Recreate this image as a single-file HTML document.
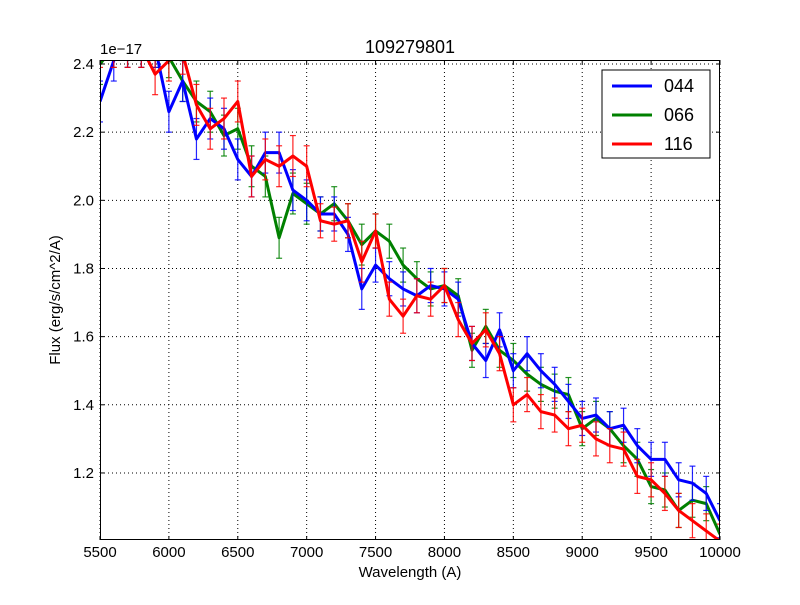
<!DOCTYPE html>
<html><head><meta charset="utf-8"><style>
body{margin:0;background:#fff;}
svg{font-family:"Liberation Sans","DejaVu Sans",sans-serif;}
</style></head><body>
<svg id="chart" width="800" height="600" xmlns="http://www.w3.org/2000/svg">
<rect width="800" height="600" fill="#fff"/>
<defs><clipPath id="pc"><rect x="100" y="60" width="620" height="480"/></clipPath></defs>
<g id="grid"></g>
<g id="series" clip-path="url(#pc)"></g>
<rect x="100.5" y="60.5" width="619" height="479" fill="none" stroke="#000" stroke-width="1"/>
<g id="ticks"></g>
<text x="410" y="53" font-size="18" text-anchor="middle">109279801</text>
<text x="410" y="577" font-size="15" text-anchor="middle">Wavelength (A)</text>
<text x="60" y="300" font-size="15" text-anchor="middle" transform="rotate(-90 60 300)">Flux (erg/s/cm^2/A)</text>
<text x="100" y="54" font-size="15">1e−17</text>
<g>
<rect x="602" y="70" width="108" height="88" fill="#fff" stroke="#000"/>
<line x1="612" y1="86" x2="652" y2="86" stroke="#0000ff" stroke-width="3"/>
<text x="664" y="92" font-size="18">044</text>
<line x1="612" y1="115" x2="652" y2="115" stroke="#008000" stroke-width="3"/>
<text x="664" y="121" font-size="18">066</text>
<line x1="612" y1="144" x2="652" y2="144" stroke="#ff0000" stroke-width="3"/>
<text x="664" y="150" font-size="18">116</text>
</g>
</svg>
<script>
const wavelengths=[5500,5600,5700,5800,5900,6000,6100,6200,6300,6400,6500,6600,6700,6800,6900,7000,7100,7200,7300,7400,7500,7600,7700,7800,7900,8000,8100,8200,8300,8400,8500,8600,8700,8800,8900,9000,9100,9200,9300,9400,9500,9600,9700,9800,9900,10000];
const flux044=[2.29,2.41,2.45,2.45,2.45,2.26,2.35,2.18,2.24,2.21,2.12,2.07,2.14,2.14,2.03,2.00,1.96,1.96,1.90,1.74,1.81,1.77,1.74,1.72,1.75,1.74,1.71,1.58,1.53,1.62,1.50,1.55,1.50,1.46,1.41,1.36,1.37,1.33,1.34,1.28,1.24,1.24,1.18,1.17,1.14,1.06];
const flux066=[2.40,2.45,2.45,2.45,2.45,2.42,2.35,2.29,2.26,2.19,2.21,2.10,2.07,1.89,2.02,1.99,1.96,1.99,1.94,1.87,1.91,1.88,1.81,1.77,1.74,1.75,1.72,1.56,1.63,1.56,1.53,1.49,1.46,1.44,1.43,1.33,1.36,1.33,1.28,1.24,1.16,1.15,1.09,1.12,1.11,1.02];
const flux116=[2.45,2.45,2.45,2.45,2.37,2.41,2.43,2.28,2.21,2.24,2.29,2.07,2.12,2.10,2.13,2.10,1.94,1.93,1.94,1.82,1.91,1.71,1.66,1.72,1.71,1.75,1.65,1.58,1.62,1.55,1.40,1.43,1.38,1.37,1.33,1.34,1.30,1.28,1.27,1.19,1.18,1.14,1.09,1.06,1.03,1.00];
const errors=[0.06,0.06,0.06,0.06,0.06,0.06,0.06,0.06,0.06,0.06,0.06,0.06,0.06,0.06,0.06,0.06,0.05,0.05,0.05,0.06,0.05,0.05,0.05,0.05,0.05,0.05,0.05,0.05,0.05,0.05,0.05,0.05,0.05,0.05,0.05,0.05,0.05,0.05,0.05,0.05,0.05,0.05,0.05,0.05,0.05,0.05];
const xTicks=[5500,6000,6500,7000,7500,8000,8500,9000,9500,10000];
const yTicks=[1.2,1.4,1.6,1.8,2.0,2.2,2.4];
const X=w=>100+(w-5500)*620/4500;
const Y=f=>64+(2.4-f)*340.8;
const NS="http://www.w3.org/2000/svg";
function mk(tag,attrs,parent){const e=document.createElementNS(NS,tag);for(const k in attrs)e.setAttribute(k,attrs[k]);parent.appendChild(e);return e;}
const grid=document.getElementById('grid'),ticks=document.getElementById('ticks'),ser=document.getElementById('series');
xTicks.forEach(t=>{const x=X(t);
 const g=mk('line',{x1:x,x2:x,y1:60,y2:540,stroke:'#000','stroke-dasharray':'1,3','stroke-width':1},grid);
 
 
 mk('line',{x1:x,x2:x,y1:540,y2:536,stroke:'#000'},ticks);mk('line',{x1:x,x2:x,y1:60,y2:64,stroke:'#000'},ticks);
 const tx=mk('text',{x:x,y:557,'font-size':15,'text-anchor':'middle'},ticks);tx.textContent=t;
 
 });
yTicks.forEach(t=>{const y=Y(t);
 const g=mk('line',{x1:100,x2:720,y1:y,y2:y,stroke:'#000','stroke-dasharray':'1,3','stroke-width':1},grid);
 
 
 mk('line',{x1:100,x2:104,y1:y,y2:y,stroke:'#000'},ticks);mk('line',{x1:716,x2:720,y1:y,y2:y,stroke:'#000'},ticks);
 const tx=mk('text',{x:94,y:y+5,'font-size':15,'text-anchor':'end'},ticks);tx.textContent=t.toFixed(1);
 
 });
function draw(vals,color,name){
 const g=mk('g',{},ser);
 
 
 vals.forEach((v,i)=>{const x=X(wavelengths[i]),e=errors[i];
  mk('line',{x1:x,x2:x,y1:Y(v-e),y2:Y(v+e),stroke:color,'stroke-width':1.2,opacity:0.85},g);
  mk('line',{x1:x-3,x2:x+3,y1:Y(v-e),y2:Y(v-e),stroke:color,'stroke-width':1.2,opacity:0.85},g);
  mk('line',{x1:x-3,x2:x+3,y1:Y(v+e),y2:Y(v+e),stroke:color,'stroke-width':1.2,opacity:0.85},g);});
 mk('polyline',{points:vals.map((v,i)=>X(wavelengths[i])+','+Y(v)).join(' '),fill:'none',stroke:color,'stroke-width':3,'stroke-linejoin':'round'},g);
}
draw(flux066,'#008000','series-066');
draw(flux044,'#0000ff','series-044');
draw(flux116,'#ff0000','series-116');
</script>
</body></html>
